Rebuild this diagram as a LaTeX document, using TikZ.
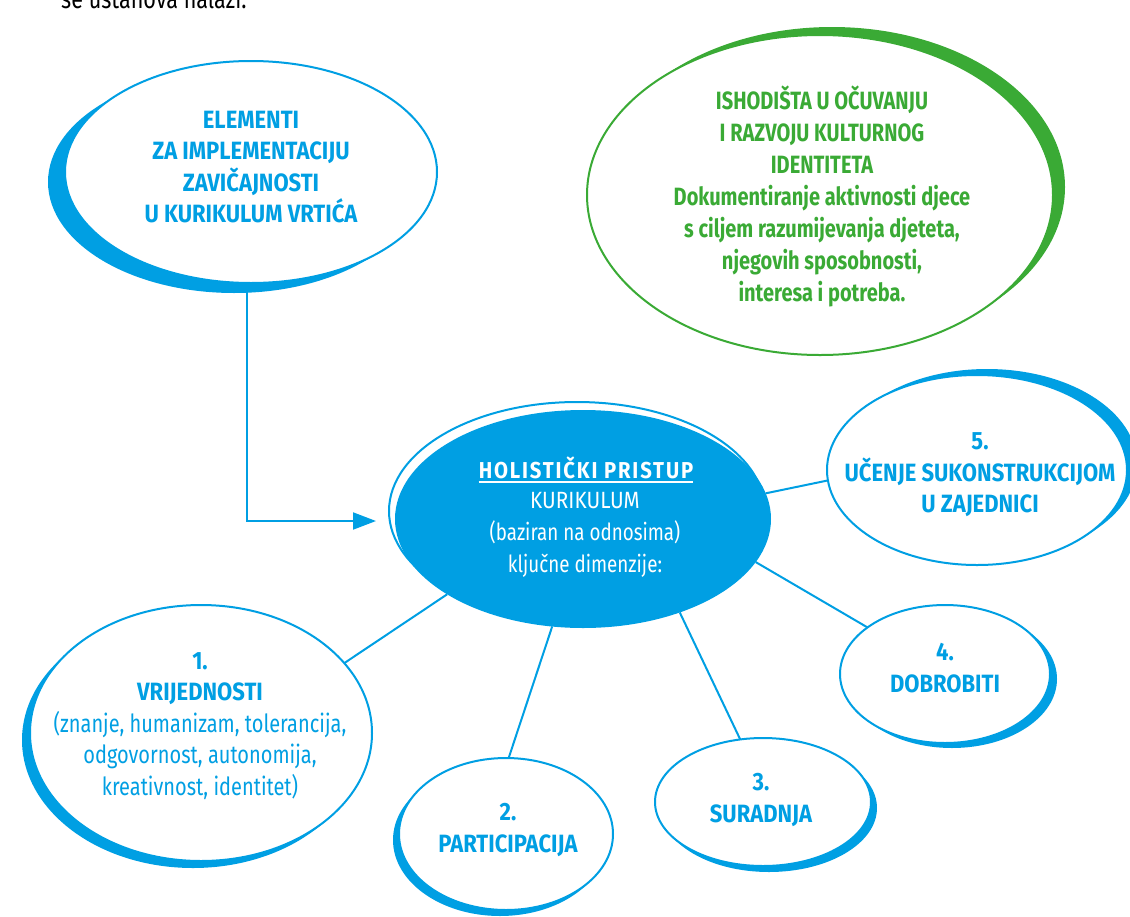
\documentclass[tikz,border=0pt]{standalone}
\usepackage{fontspec}
\setmainfont{Fira Sans}[FakeStretch=0.80]
\newfontfamily\capsf{Fira Sans}[FakeStretch=0.88]
\usetikzlibrary{shapes.geometric,arrows.meta}
\definecolor{kblue}{RGB}{0,159,227}
\definecolor{kgreen}{RGB}{58,170,53}
\begin{document}
\begin{tikzpicture}[x=1pt,y=-1pt,
  bubble/.style={ellipse, draw=kblue, line width=2pt, fill=white, inner sep=0pt, outer sep=0pt},
  shade/.style={ellipse, fill=kblue, inner sep=0pt, outer sep=0pt},
  gbubble/.style={ellipse, draw=kgreen, line width=2pt, fill=white, inner sep=0pt, outer sep=0pt},
  gshade/.style={ellipse, fill=kgreen, inner sep=0pt, outer sep=0pt},
  ring/.style={ellipse, draw=kblue, line width=2pt, inner sep=0pt, outer sep=0pt},
  hub/.style={ellipse, fill=kblue, inner sep=0pt, outer sep=0pt},
  btxt/.style={text=kblue, align=center, inner sep=0pt, font=\fontsize{25}{31.5}\selectfont},
  gtxt/.style={text=kgreen, align=center, inner sep=0pt, font=\fontsize{25}{32}\selectfont\bfseries},
  wtxt/.style={text=white, align=center, inner sep=0pt, font=\fontsize{23.5}{32}\selectfont},
  link/.style={draw=kblue, line width=2pt},
  sz/.style 2 args={minimum width=#1, minimum height=#2}
]
\newcommand\capb[1]{{\capsf\bfseries #1}}
\useasboundingbox (0,0) rectangle (1130,916);
\clip (0,0) rectangle (1130,916);

% running text above the diagram
\node[anchor=base west, inner sep=0pt, font=\fontsize{27}{30}\selectfont] (lead) at (61,8) {se ustanova nalazi.};

% elements bubble
\node[shade, sz={372pt}{222pt}] (e0s) at (234,182) {};
\node[bubble, sz={372pt}{222pt}] (e0) at (251,172) {};
\node[btxt] (t0) at (251,167) {\capb{ELEMENTI}\\\capb{ZA IMPLEMENTACIJU}\\\capb{ZAVIČAJNOSTI}\\\capb{U KURIKULUM VRTIĆA}};

% cultural identity bubble
\node[gshade, sz={466pt}{320pt}] (gs) at (832,187) {};
\node[gbubble, sz={466pt}{320pt}] (g) at (820,195) {};
\node[gtxt] (tg) at (822,196) {ISHODIŠTA U OČUVANJU\\I RAZVOJU KULTURNOG\\IDENTITETA\\Dokumentiranje aktivnosti djece\\s ciljem razumijevanja djeteta,\\njegovih sposobnosti,\\interesa i potreba.};

% five dimensions
\node[shade, sz={300pt}{190pt}] (e5s) at (987,464) {};
\node[bubble, sz={300pt}{190pt}] (e5) at (977,470) {};
\node[btxt] (t5) at (980,475) {\capb{5.}\\\capb{UČENJE SUKONSTRUKCIJOM}\\\capb{U ZAJEDNICI}};

\node[shade, sz={210pt}{138pt}] (e4s) at (952,679) {};
\node[bubble, sz={210pt}{138pt}] (e4) at (945,674) {};
\node[btxt] (t4) at (945,668) {\capb{4.}\\\capb{DOBROBITI}};

\node[shade, sz={216pt}{128pt}] (e3s) at (769,808) {};
\node[bubble, sz={216pt}{128pt}] (e3) at (763,802) {};
\node[btxt] (t3) at (761,800) {\capb{3.}\\\capb{SURADNJA}};

\node[shade, sz={214pt}{152pt}] (e2s) at (500,840) {};
\node[bubble, sz={214pt}{152pt}] (e2) at (506,834) {};
\node[btxt] (t2) at (508,830) {\capb{2.}\\\capb{PARTICIPACIJA}};

\node[shade, sz={342pt}{256pt}] (e1s) at (193,740) {};
\node[bubble, sz={342pt}{256pt}] (e1) at (201,733) {};
\node[btxt] (t1) at (200,726) {\capb{1.}\\\capb{VRIJEDNOSTI}\\(znanje, humanizam, tolerancija,\\odgovornost, autonomija,\\kreativnost, identitet)};

% central hub
\node[ring, sz={376pt}{218pt}] (hring) at (577,511) {};
\node[hub, sz={376pt}{218pt}] (hol) at (583,519) {};
\node[wtxt, font=\fontsize{23}{32}\selectfont\capsf\bfseries\addfontfeatures{LetterSpace=8}] (hdr) at (586,468) {HOLISTIČKI PRISTUP};
\draw[white, line width=1.8pt] ([yshift=-3.5pt]hdr.base west) -- ([yshift=-3.5pt]hdr.base east);
\node[wtxt] (hbody) at (585,535) {{\capsf KURIKULUM}\\(baziran na odnosima)\\ključne dimenzije:};

% connectors
\coordinate (tip) at (376,521);
\draw[link, -{Triangle[length=23pt,width=17pt]}] (e0.-92) |- (tip);
\draw[link] (hol.8) -- (e5.184);
\draw[link] (hol.-14) -- (e4.149);
\draw[link] (hol.-44) -- (e3.110);
\draw[link] (hol.-106) -- (e2.88);
\draw[link] (hol.-151) -- (e1.26);
\end{tikzpicture}
\end{document}
